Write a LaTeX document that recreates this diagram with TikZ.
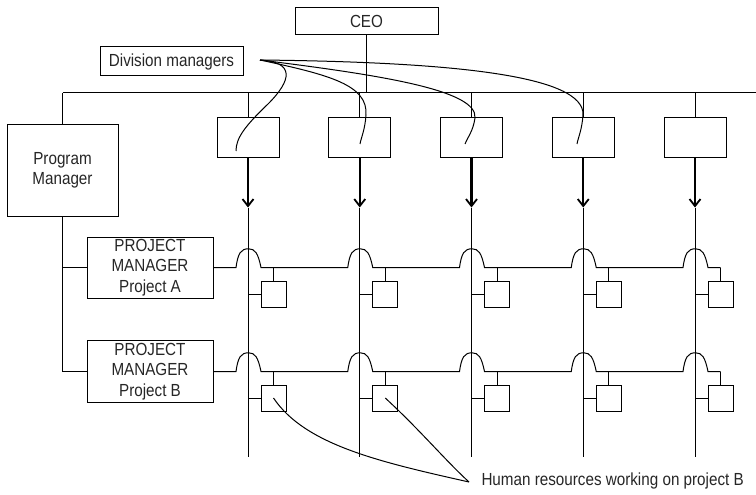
\documentclass[tikz,border=0pt]{standalone}
\usepackage{fontspec}
\setmainfont{Liberation Sans}[FakeStretch=0.87]
\usetikzlibrary{arrows.meta}

\begin{document}
\begin{tikzpicture}[x=1pt, y=-1pt, line width=1pt, line join=miter,
  txt/.style={font=\fontsize{17.5}{20.5}\selectfont, text=black!85},
  box/.style={draw, txt, inner sep=0pt, align=center},
  divbox/.style={draw, minimum width=62pt, minimum height=39pt, inner sep=0pt},
  resbox/.style={draw, minimum width=25pt, minimum height=26pt, inner sep=0pt},
  feed/.style={line width=2.2pt, -{Straight Barb[length=7pt, width=11pt, line width=1.8pt]}},
  pointer/.style={line width=1pt}]

\useasboundingbox (0,0) rectangle (756,495);

% top of the hierarchy
\node[box, minimum width=143pt, minimum height=27pt] (ceo) at (366.5,21.5) {CEO};
\node[box, minimum width=143pt, minimum height=29pt] (dmlabel) at (171.5,61.5) {Division managers};
\node[box, minimum width=111pt, minimum height=91pt] (pm) at (62.5,170.5) {Program\\Manager};
\node[box, minimum width=126pt, minimum height=61pt] (pa) at (150,267.5) {PROJECT\\MANAGER\\Project A};
\node[box, minimum width=126pt, minimum height=62pt] (pb) at (150,371.5) {PROJECT\\MANAGER\\Project B};

% horizontal bus under the CEO
\coordinate (busL) at (62.5,92.7);
\coordinate (busR) at (756,92.7);
\draw (busL) -- (busR);
\draw (ceo.south) -- (ceo.south |- busL);
\draw (pm.north) -- (busL);
\draw (pm.south) -- (pm.south |- pb.west) -- (pb.west);
\draw (pm.south |- pa.west) -- (pa.west);

% divisions: box, feed arrow, vertical line and one resource per project
\foreach \i/\x in {1/248, 2/359.75, 3/471.5, 4/583.25, 5/695} {
  \node[divbox] (d\i) at (\x,137.5) {};
  \coordinate (t\i) at (\x,207.5);
  \coordinate (b\i) at (\x,457);
  \draw (d\i.north) -- (d\i.north |- busL);
  \draw[feed] (d\i.south) -- (t\i);
  \draw (t\i) -- (b\i);
  \node[resbox] (ra\i) at (\x+25.5,294) {};
  \node[resbox] (rb\i) at (\x+25.5,398) {};
  \draw (ra\i.west) -- (ra\i.west -| t\i);
  \draw (rb\i.west) -- (rb\i.west -| t\i);
  \draw (ra\i.north) -- (ra\i.north |- pa.east);
  \draw (rb\i.north) -- (rb\i.north |- pb.east);
}

% project lines hopping over the division lines
\draw (pa.east)
  \foreach \x in {248, 359.75, 471.5, 583.25, 695} {
    -- (\x-12,267.5)
    .. controls (\x-10,253) and (\x-7,248.8) .. (\x+0.5,248.8)
    .. controls (\x+7,248.8) and (\x+10,253) .. (\x+13,267.5)
  } -- (ra5.north |- pa.east);
\draw (pb.east)
  \foreach \x in {248, 359.75, 471.5, 583.25, 695} {
    -- (\x-12,371.5)
    .. controls (\x-10,357) and (\x-7,352.8) .. (\x+0.5,352.8)
    .. controls (\x+7,352.8) and (\x+10,357) .. (\x+13,371.5)
  } -- (rb5.north |- pb.east);

% division managers pointers
\coordinate (dm) at (260,60);
\coordinate (e1) at (236,151);
\coordinate (e2) at (360,144);
\coordinate (e3) at (465,144);
\coordinate (e4) at (577,144);
\draw[pointer] (dm) .. controls (295,62) and (292,80) .. (268,104)
  .. controls (245,126) and (236,138) .. (e1);
\draw[pointer] (dm) .. controls (330,75) and (368,85) .. (366,115)
  .. controls (365,130) and (361,138) .. (e2);
\draw[pointer] (dm) .. controls (380,75) and (478,90) .. (475,118)
  .. controls (473,132) and (467,138) .. (e3);
\draw[pointer] (dm) .. controls (450,62) and (585,75) .. (583,115)
  .. controls (582,130) and (578,138) .. (e4);

% human resources pointers
\node[txt, anchor=west, inner sep=0pt] (hr) at (481,481) {Human resources working on project B};
\coordinate (hrt) at (469,482);
\draw[pointer] (rb1.center) .. controls (305,445) and (380,462) .. (hrt);
\draw[pointer] (rb2.center) .. controls (420,430) and (445,460) .. (hrt);

\end{tikzpicture}
\end{document}
